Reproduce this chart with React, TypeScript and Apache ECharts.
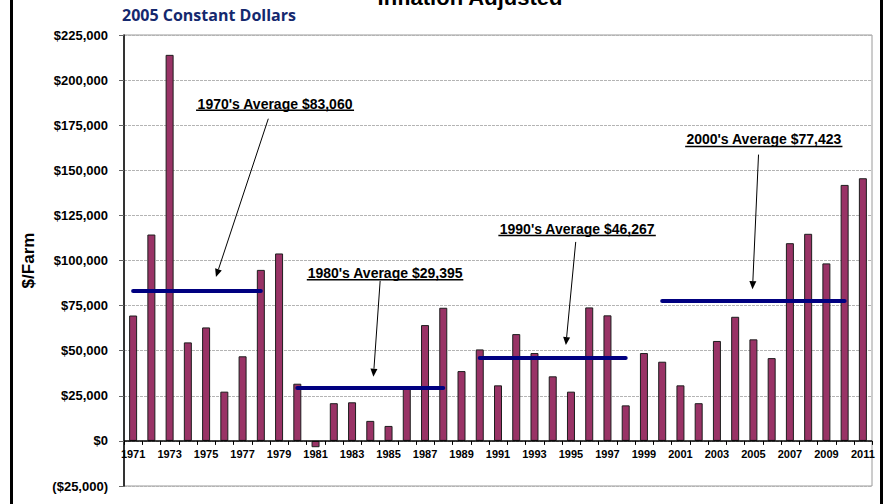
import React, { useEffect, useRef } from 'react';
import * as echarts from 'echarts';

// Net farm income per farm, inflation adjusted (2005 constant dollars)
const years = [
  '1971', '1972', '1973', '1974', '1975', '1976', '1977', '1978', '1979', '1980',
  '1981', '1982', '1983', '1984', '1985', '1986', '1987', '1988', '1989', '1990',
  '1991', '1992', '1993', '1994', '1995', '1996', '1997', '1998', '1999', '2000',
  '2001', '2002', '2003', '2004', '2005', '2006', '2007', '2008', '2009', '2010',
  '2011',
];
const incomePerFarm = [
  69500, 114400, 214000, 54600, 62900, 27300, 46900, 94800, 103900, 31700,
  -3500, 20900, 21400, 11100, 8300, 29300, 64200, 73800, 38700, 50700,
  30800, 59200, 48700, 35800, 27300, 74000, 69600, 19700, 48700, 43900,
  30800, 20900, 55400, 68800, 56300, 45900, 109600, 114800, 98400, 141900,
  145600,
];

// Decade averages
const decadeLabels = [
  "1970's Average $83,060",
  "1980's Average $29,395",
  "1990's Average $46,267",
  "2000's Average $77,423",
];
const decadeAverages = [83060, 29395, 46267, 77423];
const decadeStart = ['1971', '1980', '1990', '2000'];
const decadeEnd = ['1978', '1988', '1998', '2010'];

// Annotation placement: x in category-width units from the axis start, y in $ on the value axis
const labelAnchor = [
  [8.28, 186900],
  [14.31, 92800],
  [24.84, 117700],
  [35.07, 167200],
];
const underlineSpan = [
  [3.95, 12.61, 183300],
  [10.02, 18.6, 89300],
  [20.52, 29.15, 113800],
  [30.76, 39.38, 163200],
];
const arrowSpan = [
  [7.91, 178600, 5.04, 90900],
  [14.04, 88700, 13.67, 35600],
  [24.76, 110300, 24.22, 53100],
  [34.78, 158700, 34.45, 84100],
];

const yMin = -25000;
const yMax = 225000;
const yStep = 25000;

const fmtMoney = (v: number) => {
  const s = '$' + Math.abs(v).toLocaleString('en-US');
  return v < 0 ? '(' + s + ')' : s;
};

export default function App() {
  const ref = useRef<HTMLDivElement>(null);

  useEffect(() => {
    if (!ref.current) return;
    const chart = echarts.init(ref.current, undefined, { renderer: 'svg' });
    const font = 'Arial, "Liberation Sans", sans-serif';

    const baseGraphics: any[] = [
      { type: 'rect', shape: { x: 10, y: 0, width: 3, height: 504 }, style: { fill: '#000' } },
      { type: 'rect', shape: { x: 880, y: 0, width: 3, height: 504 }, style: { fill: '#000' } },
      {
        type: 'text',
        x: 470,
        y: -3,
        style: {
          text: 'Inflation Adjusted',
          fontFamily: font,
          fontWeight: 'bold',
          fontSize: 22,
          fill: '#000',
          align: 'center',
          verticalAlign: 'middle',
        },
      },
      {
        type: 'text',
        x: 122,
        y: 15,
        style: {
          text: '2005 Constant Dollars',
          fontFamily: '"Open Sans", sans-serif',
          fontWeight: 'bold',
          fontSize: 16,
          fill: '#14286e',
          align: 'left',
          verticalAlign: 'middle',
        },
      },
    ];

    const option: any = {
      animation: false,
      backgroundColor: '#ffffff',
      textStyle: { fontFamily: font },
      grid: {
        left: 124,
        right: 14,
        top: 35,
        bottom: 18,
        show: true,
        borderColor: '#9a9a9a',
        borderWidth: 1,
        backgroundColor: 'transparent',
      },
      graphic: baseGraphics,
      xAxis: {
        type: 'category',
        data: years,
        axisLine: { show: false },
        axisTick: { show: false },
        axisLabel: { show: false },
        splitLine: { show: false },
      },
      yAxis: {
        type: 'value',
        min: yMin,
        max: yMax,
        interval: yStep,
        name: '$/Farm',
        nameLocation: 'middle',
        nameGap: 87,
        nameTextStyle: { fontWeight: 'bold', fontSize: 17, color: '#000', fontFamily: font },
        axisLine: { show: true, onZero: false, lineStyle: { color: '#000', width: 1.5 } },
        axisTick: { show: true, length: 5, lineStyle: { color: '#666' } },
        axisLabel: {
          formatter: fmtMoney,
          color: '#000',
          fontWeight: 'bold',
          fontSize: 13,
          fontFamily: font,
          margin: 16,
        },
        splitLine: { show: true, lineStyle: { color: '#b4b4b4', type: [3, 1], width: 1 } },
      },
      series: [
        {
          type: 'bar',
          data: incomePerFarm,
          barWidth: 8,
          z: 3,
          itemStyle: { color: '#993366', borderColor: '#1e1e1e', borderWidth: 1 },
          markLine: {
            silent: true,
            symbol: ['none', 'none'],
            label: { show: false },
            lineStyle: { color: '#000080', width: 4, type: 'solid', cap: 'round' },
            data: [
              {
                yAxis: 0,
                lineStyle: { color: '#000', width: 1.5, type: 'solid', cap: 'butt' },
              },
              ...decadeAverages.map((v, i) => [
                { coord: [decadeStart[i], v] },
                { coord: [decadeEnd[i], v] },
              ]),
            ],
          },
        },
      ],
    };

    chart.setOption(option);

    // Map annotation anchors through the chart's own axes
    const first = chart.convertToPixel({ xAxisIndex: 0, yAxisIndex: 0 }, [0, 0]) as number[];
    const last = chart.convertToPixel(
      { xAxisIndex: 0, yAxisIndex: 0 },
      [years.length - 1, 0]
    ) as number[];
    const unit = (last[0] - first[0]) / (years.length - 1);
    const px = (u: number) => first[0] + (u - 0.5) * unit;
    const py = (v: number) =>
      (chart.convertToPixel({ xAxisIndex: 0, yAxisIndex: 0 }, [0, v]) as number[])[1];
    const zeroY = first[1];

    const notes: any[] = [];

    // category ticks at band boundaries below the zero line, year labels every other year
    for (let b = 0; b <= years.length; b++) {
      const x = Math.round(px(b)) + 0.5;
      notes.push({
        type: 'line',
        shape: { x1: x, y1: zeroY, x2: x, y2: zeroY + 4 },
        style: { stroke: '#000', lineWidth: 1 },
        z: 5,
      });
    }
    years.forEach((yr, i) => {
      if (i % 2 !== 0) return;
      const p = chart.convertToPixel({ xAxisIndex: 0, yAxisIndex: 0 }, [i, 0]) as number[];
      notes.push({
        type: 'text',
        x: p[0],
        y: p[1] + 8,
        style: {
          text: yr,
          fontFamily: font,
          fontWeight: 'bold',
          fontSize: 11,
          fill: '#000',
          align: 'center',
          verticalAlign: 'top',
        },
        z: 5,
      });
    });

    labelAnchor.forEach((p, i) => {
      notes.push({
        type: 'text',
        x: px(p[0]),
        y: py(p[1]),
        style: {
          text: decadeLabels[i],
          fontFamily: font,
          fontWeight: 'bold',
          fontSize: 14,
          fill: '#000',
          align: 'center',
          verticalAlign: 'middle',
        },
        z: 10,
      });
    });
    underlineSpan.forEach((u) => {
      notes.push({
        type: 'line',
        shape: { x1: px(u[0]), y1: py(u[2]), x2: px(u[1]), y2: py(u[2]) },
        style: { stroke: '#000', lineWidth: 1.5 },
        z: 10,
      });
    });
    arrowSpan.forEach((a) => {
      const x1 = px(a[0]);
      const y1 = py(a[1]);
      const x2 = px(a[2]);
      const y2 = py(a[3]);
      const len = Math.hypot(x2 - x1, y2 - y1);
      const dx = (x2 - x1) / len;
      const dy = (y2 - y1) / len;
      const hl = 8;
      const hw = 3.5;
      const bx = x2 - dx * hl;
      const by = y2 - dy * hl;
      notes.push({
        type: 'line',
        shape: { x1, y1, x2: bx, y2: by },
        style: { stroke: '#000', lineWidth: 1 },
        z: 10,
      });
      notes.push({
        type: 'polygon',
        shape: {
          points: [
            [x2, y2],
            [bx - dy * hw, by + dx * hw],
            [bx + dy * hw, by - dx * hw],
          ],
        },
        style: { fill: '#000' },
        z: 10,
      });
    });

    chart.setOption({ graphic: baseGraphics.concat(notes) });
    return () => chart.dispose();
  }, []);

  return (
    <div
      ref={ref}
      style={{ position: 'fixed', left: 0, top: 0, width: 886, height: 504 }}
    />
  );
}
